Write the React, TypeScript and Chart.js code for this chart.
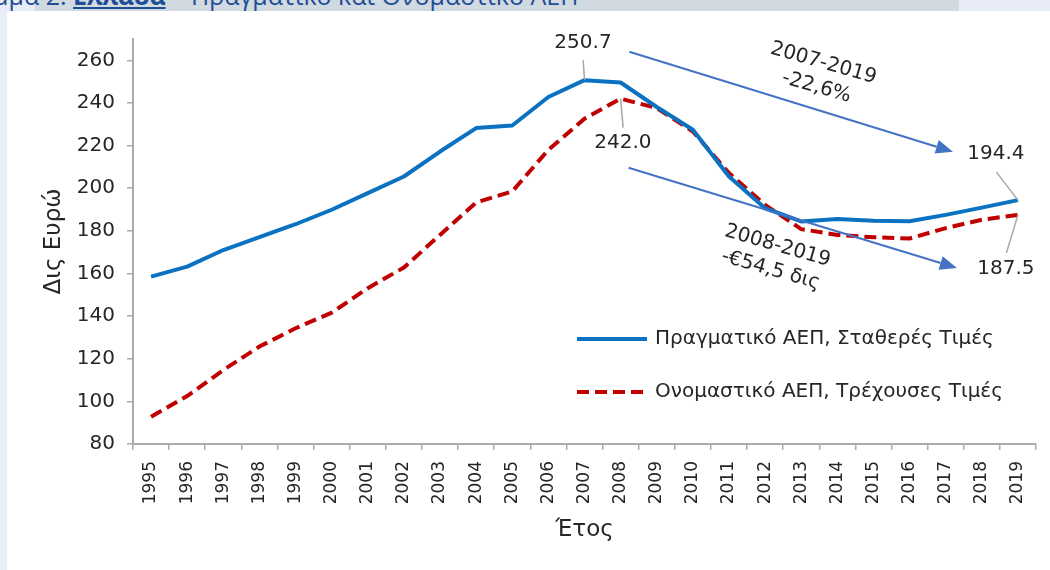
import React, { useEffect, useRef } from 'react';
import { Chart, registerables } from 'chart.js';

Chart.register(...registerables);

// ---------- DATA ----------
const years = [
  '1995', '1996', '1997', '1998', '1999', '2000', '2001', '2002', '2003', '2004',
  '2005', '2006', '2007', '2008', '2009', '2010', '2011', '2012', '2013', '2014',
  '2015', '2016', '2017', '2018', '2019',
];
const realGDP = [
  158.5, 163.2, 171.0, 177.0, 183.1, 189.9, 197.7, 205.5, 217.2, 228.2,
  229.4, 242.8, 250.7, 249.6, 238.1, 227.4, 205.5, 190.6, 184.4, 185.5,
  184.7, 184.5, 187.5, 190.9, 194.4,
];
const nominalGDP = [
  92.8, 102.5, 114.7, 125.7, 134.3, 141.6, 153.1, 162.8, 178.1, 193.3,
  198.5, 218.0, 232.6, 242.0, 237.6, 226.6, 207.1, 192.2, 180.8, 178.1,
  177.0, 176.4, 181.3, 185.2, 187.5,
];
const yTicks = [80, 100, 120, 140, 160, 180, 200, 220, 240, 260];
const seriesNames = ['Πραγματικό ΑΕΠ, Σταθερές Τιμές', 'Ονομαστικό ΑΕΠ, Τρέχουσες Τιμές'];
const yTitle = 'Δις Ευρώ';
const xTitle = 'Έτος';
const periodNotes = [
  ['2007-2019', '-22,6%'],
  ['2008-2019', '-€54,5 δις'],
];

// ---------- STYLE ----------
const FONT = '"DejaVu Sans", sans-serif';
const TEXT = '#262626';
const AXIS = '#ababab';
const BLUE = '#0B72C2';
const RED = '#C00000';
const ARROW = '#4472C4';
const LEADER = '#a6a6a6';
const DASH = [12, 6];

// value labels: series, year index, leader end offset, label centre offset
const valueLabels = [
  { series: realGDP, index: 12, leader: [-1.3, -20], label: [-1.5, -37] },
  { series: nominalGDP, index: 13, leader: [2.5, 29], label: [2.3, 44] },
  { series: realGDP, index: 24, leader: [-21.5, -28], label: [-22, -46] },
  { series: nominalGDP, index: 24, leader: [-11.5, 38], label: [-12, 54] },
];
// arrows in (category index, value) coordinates
const arrows = [
  { from: [13.24, 264.0], to: [22.2, 217.1] },
  { from: [13.22, 209.6], to: [22.31, 162.6] },
];
const noteAnchors = [
  { at: [18.52, 253.0], angle: 16 },
  { at: [17.25, 167.3], angle: 16 },
];

const overlayPlugin = {
  id: 'overlay',
  afterDraw(chart: any) {
    const { ctx, chartArea } = chart;
    const x = chart.scales.x;
    const y = chart.scales.y;
    ctx.save();
    ctx.fillStyle = TEXT;
    ctx.textAlign = 'center';
    ctx.textBaseline = 'middle';

    // axis titles
    ctx.font = `23px ${FONT}`;
    ctx.fillText(xTitle, (chartArea.left + chartArea.right) / 2, chartArea.bottom + 86);
    ctx.save();
    ctx.translate(chartArea.left - 79, (chartArea.top + chartArea.bottom) / 2);
    ctx.rotate(-Math.PI / 2);
    ctx.fillText(yTitle, 0, 0);
    ctx.restore();

    // legend
    const lx = chartArea.left + 444;
    const ly = [chartArea.top + 300, chartArea.top + 353];
    const lcolors = [BLUE, RED];
    ctx.font = `20px ${FONT}`;
    ctx.textAlign = 'left';
    for (let i = 0; i < 2; i++) {
      ctx.beginPath();
      ctx.strokeStyle = lcolors[i];
      ctx.lineWidth = 4;
      ctx.setLineDash(i === 1 ? DASH : []);
      ctx.moveTo(lx, ly[i]);
      ctx.lineTo(lx + 70, ly[i]);
      ctx.stroke();
      ctx.setLineDash([]);
      ctx.fillText(seriesNames[i], lx + 78, ly[i]);
    }

    // value labels with leader lines
    ctx.textAlign = 'center';
    for (const v of valueLabels) {
      const px = x.getPixelForValue(v.index);
      const py = y.getPixelForValue(v.series[v.index]);
      ctx.beginPath();
      ctx.strokeStyle = LEADER;
      ctx.lineWidth = 1.5;
      ctx.moveTo(px, py);
      ctx.lineTo(px + v.leader[0], py + v.leader[1]);
      ctx.stroke();
      ctx.fillText(v.series[v.index].toFixed(1), px + v.label[0], py + v.label[1]);
    }

    // arrows
    for (const a of arrows) {
      const x1 = x.getPixelForValue(a.from[0]);
      const y1 = y.getPixelForValue(a.from[1]);
      const x2 = x.getPixelForValue(a.to[0]);
      const y2 = y.getPixelForValue(a.to[1]);
      const ang = Math.atan2(y2 - y1, x2 - x1);
      const head = 17;
      const hw = 7;
      const bx = x2 - head * Math.cos(ang);
      const by = y2 - head * Math.sin(ang);
      ctx.beginPath();
      ctx.strokeStyle = ARROW;
      ctx.lineWidth = 2;
      ctx.moveTo(x1, y1);
      ctx.lineTo(bx, by);
      ctx.stroke();
      ctx.beginPath();
      ctx.fillStyle = ARROW;
      ctx.moveTo(x2, y2);
      ctx.lineTo(bx + hw * Math.sin(ang), by - hw * Math.cos(ang));
      ctx.lineTo(bx - hw * Math.sin(ang), by + hw * Math.cos(ang));
      ctx.closePath();
      ctx.fill();
    }

    // rotated notes
    ctx.fillStyle = TEXT;
    ctx.font = `20px ${FONT}`;
    noteAnchors.forEach((n, i) => {
      const cx = x.getPixelForValue(n.at[0]);
      const cy = y.getPixelForValue(n.at[1]);
      ctx.save();
      ctx.translate(cx, cy);
      ctx.rotate((n.angle * Math.PI) / 180);
      ctx.fillText(periodNotes[i][0], 0, -12.5);
      ctx.fillText(periodNotes[i][1], 0, 12.5);
      ctx.restore();
    });

    ctx.restore();
  },
};

function GDPChart() {
  const ref = useRef<HTMLCanvasElement>(null);
  useEffect(() => {
    if (!ref.current) return;
    const chart = new Chart(ref.current, {
      type: 'line',
      data: {
        labels: years,
        datasets: [
          {
            label: seriesNames[0],
            data: realGDP,
            borderColor: BLUE,
            backgroundColor: BLUE,
            borderWidth: 4,
            pointRadius: 0,
            tension: 0,
            borderJoinStyle: 'round',
          },
          {
            label: seriesNames[1],
            data: nominalGDP,
            borderColor: RED,
            backgroundColor: RED,
            borderWidth: 4,
            borderDash: DASH,
            pointRadius: 0,
            tension: 0,
          },
        ],
      },
      options: {
        responsive: false,
        animation: false,
        devicePixelRatio: 1,
        layout: { padding: { top: 39, right: 14, left: 0, bottom: 0 } },
        plugins: { legend: { display: false }, tooltip: { enabled: false }, title: { display: false } },
        scales: {
          x: {
            type: 'category',
            offset: true,
            afterFit: (s: any) => { s.height = 126; },
            grid: {
              offset: true,
              drawOnChartArea: false,
              drawTicks: true,
              tickLength: 6,
              color: AXIS,
              lineWidth: 1.5,
            },
            border: { display: true, color: AXIS, width: 2 },
            ticks: {
              autoSkip: false,
              minRotation: 90,
              maxRotation: 90,
              padding: 11,
              color: TEXT,
              font: { family: FONT, size: 17 },
            },
          },
          y: {
            type: 'linear',
            min: 80,
            max: 270,
            afterFit: (s: any) => { s.width = 133; },
            afterBuildTicks: (s: any) => { s.ticks = yTicks.map((v) => ({ value: v })); },
            grid: {
              drawOnChartArea: false,
              drawTicks: true,
              tickLength: 6,
              color: AXIS,
              lineWidth: 1.5,
            },
            border: { display: true, color: AXIS, width: 2 },
            ticks: {
              padding: 12,
              color: TEXT,
              font: { family: FONT, size: 20 },
            },
          },
        },
      },
      plugins: [overlayPlugin],
    });
    return () => chart.destroy();
  }, []);
  return <canvas ref={ref} width={1050} height={570} style={{ position: 'absolute', left: 0, top: 0 }} />;
}

export default function App() {
  return (
    <div style={{ position: 'fixed', left: 0, top: 0, width: 1050, height: 570, background: '#ffffff', overflow: 'hidden' }}>
      <div style={{ position: 'absolute', left: 0, top: 0, width: 7, height: 570, background: '#e8edf6' }} />
      <div style={{ position: 'absolute', left: 0, top: 0, width: 1050, height: 11, background: '#e8ecf6' }} />
      <div style={{ position: 'absolute', left: 35, top: 0, width: 924, height: 11, background: '#d1d9e1' }} />
      <div style={{ position: 'absolute', left: 0, top: 0, width: 1050, height: 11, overflow: 'hidden' }}>
        <div
          style={{
            position: 'absolute',
            left: 73,
            top: -17,
            whiteSpace: 'nowrap',
            fontFamily: '"Open Sans", sans-serif',
            fontSize: 25,
            lineHeight: '25px',
            color: '#1f4e96',
          }}
        >
          <span style={{ position: 'absolute', right: '100%', top: 0 }}>Διάγραμμα 2.&nbsp;</span>
          <b><u>Ελλάδα</u></b> – Πραγματικό και Ονομαστικό ΑΕΠ
        </div>
      </div>
      <GDPChart />
    </div>
  );
}
